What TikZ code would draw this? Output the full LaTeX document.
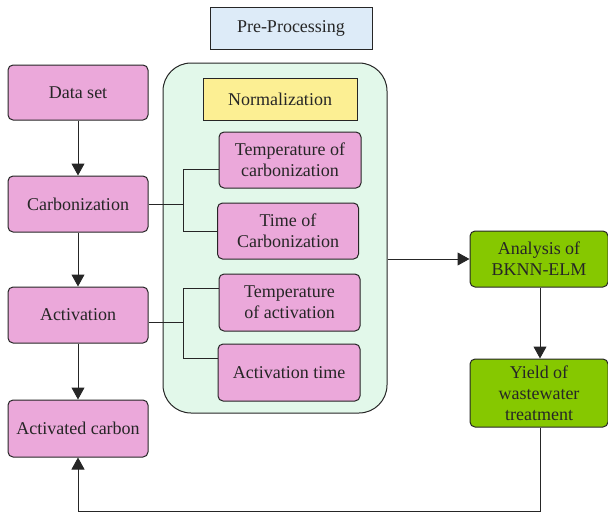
\documentclass[tikz,border=0pt]{standalone}
\usepackage{fontspec}
\setmainfont{Liberation Serif}
\usetikzlibrary{arrows.meta}
\definecolor{pinkbox}{HTML}{EBA8DA}
\definecolor{greenbg}{HTML}{E2F8EA}
\definecolor{bluebox}{HTML}{DDEBF8}
\definecolor{yellowbox}{HTML}{FCEF93}
\definecolor{greenbox}{HTML}{86C800}
\definecolor{edge}{HTML}{262626}
\begin{document}
\begin{tikzpicture}[x=1pt,y=-1pt,
  every node/.style={font=\fontsize{18}{21}\selectfont, text=edge},
  pbox/.style={draw=edge, line width=1pt, fill=pinkbox, rounded corners=5pt, align=center, inner sep=0pt},
  gbox/.style={draw=edge, line width=1pt, fill=greenbox, rounded corners=5pt, align=center, inner sep=0pt},
  link/.style={draw=edge, line width=1pt},
  arr/.style={link, -{Triangle[length=12pt,width=13pt]}}]
\useasboundingbox (0,0) rectangle (608,512);
% container
\node[draw=edge, line width=1pt, fill=greenbg, rounded corners=28pt, minimum width=224pt, minimum height=350pt, inner sep=0pt] (cont) at (275,238) {};
\node[draw=edge, line width=1pt, fill=bluebox, minimum width=162pt, minimum height=42pt, inner sep=0pt] (pre) at (291,28) {Pre-Processing};
\node[draw=edge, line width=1pt, fill=yellowbox, minimum width=154pt, minimum height=42pt, inner sep=0pt] (norm) at (280,99) {Normalization};
% left column
\node[pbox, minimum width=140pt, minimum height=55pt] (data) at (78,92.5) {Data set};
\node[pbox, minimum width=140pt, minimum height=56pt] (carb) at (78,204) {Carbonization};
\node[pbox, minimum width=140pt, minimum height=56pt] (act) at (78,315) {Activation};
\node[pbox, minimum width=140pt, minimum height=57pt] (ac) at (78,428.5) {Activated carbon};
% inner boxes
\node[pbox, minimum width=142pt, minimum height=56pt] (tc) at (290,160) {Temperature of\\carbonization};
\node[pbox, minimum width=141pt, minimum height=56pt] (toc) at (288,231) {Time of\\Carbonization};
\node[pbox, minimum width=141pt, minimum height=57pt] (ta) at (289.5,302.5) {Temperature\\of activation};
\node[pbox, minimum width=142pt, minimum height=57pt] (at) at (289,372.5) {Activation time};
% right column
\node[gbox, minimum width=138pt, minimum height=56pt] (an) at (539,259) {Analysis of\\BKNN-ELM};
\node[gbox, minimum width=138pt, minimum height=68pt] (yi) at (539,393) {Yield of\\wastewater\\treatment};
% connectors
\draw[arr] (data) -- (carb);
\draw[arr] (carb) -- (act);
\draw[arr] (act) -- (ac);
\draw[link] (carb.east) -- (183,204) (183,169) |- (toc.west);
\draw[link] (183,169) -- (tc.west |- 0,169);
\draw[link] (act.east |- 0,322) -- (183,322) (183,288) |- (at.west |- 0,358);
\draw[link] (183,288) -- (ta.west |- 0,288);
\draw[arr] (cont.east |- an.west) -- (an.west);
\draw[arr] (an.south -| 540,0) -- (yi.north -| 540,0);
\coordinate (bot) at (540,511);
\draw[arr] (yi.south -| bot) -- (bot) -| (ac.south);
\end{tikzpicture}
\end{document}
